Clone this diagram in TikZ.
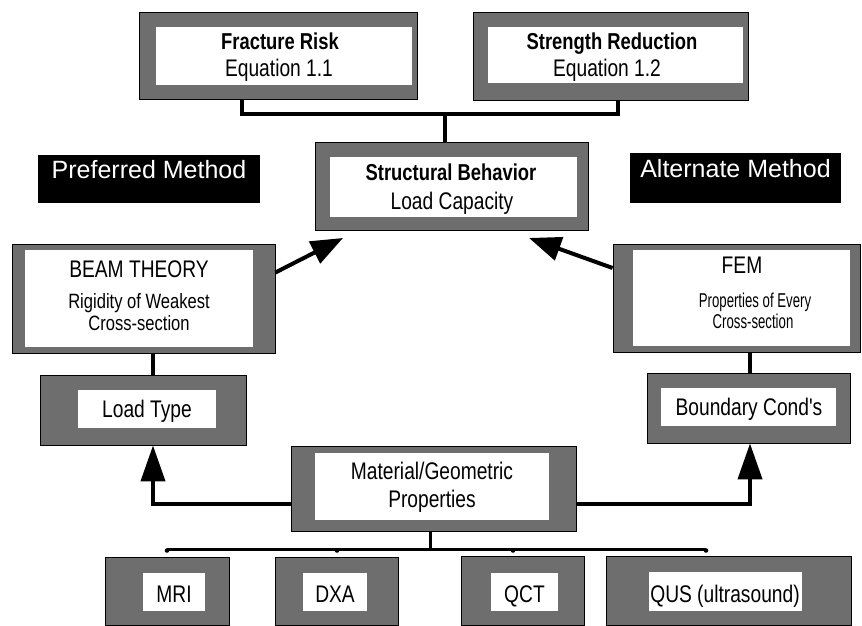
\documentclass[tikz,border=0pt]{standalone}
\usepackage{fontspec}
\setmainfont{Liberation Sans}
\newfontfamily\nar[FakeStretch=0.8]{Liberation Sans}
\newfontfamily\narr[FakeStretch=0.66]{Liberation Sans}
\usetikzlibrary{arrows.meta,fit}
\begin{document}
\begin{tikzpicture}[x=1pt,y=-1pt,
  frame/.style={draw=black,line width=0.8pt,fill=black!57,inner sep=0pt},
  inbox/.style={fill=white,inner sep=0pt},
  lab/.style={font=\nar\fontsize{24}{26}\selectfont,anchor=base,inner sep=0pt},
  sublab/.style={font=\nar\fontsize{20.7}{22}\selectfont,anchor=base,inner sep=0pt},
  smlab/.style={font=\narr\fontsize{20}{22}\selectfont,anchor=base,inner sep=0pt},
  blab/.style={font=\nar\bfseries\fontsize{23}{26}\selectfont,anchor=base,inner sep=0pt},
  tag/.style={fill=black,text=white,inner sep=0pt,font=\fontsize{25}{28}\selectfont},
  conn/.style={line width=3.5pt},
  bus/.style={line width=3pt},
  arrd/.style={line width=4pt,-{Triangle[length=32pt,width=24pt]}},
  arrv/.style={line width=4pt,-{Triangle[length=36pt,width=24pt]}},
]
\useasboundingbox (0,0) rectangle (862,626);

% Top boxes
\node[frame,fit={(139,12) (417,99)}] (fr) {};
\node[inbox,fit={(156,27) (412,85)}] (fr-in) {};
\node[blab] (fr-t1) at (280,50) {Fracture Risk};
\node[lab] (fr-t2) at (279,77) {Equation 1.1};

\node[frame,fit={(473,12) (748,100)}] (sr) {};
\node[inbox,fit={(488,27) (743,83)}] (sr-in) {};
\node[blab] (sr-t1) at (612,50) {Strength Reduction};
\node[lab] (sr-t2) at (607,77) {Equation 1.2};

% Structural behavior
\node[frame,fit={(315,142) (588,230)}] (sb) {};
\node[inbox,fit={(330,157) (577,217)}] (sb-in) {};
\node[blab] (sb-t1) at (451,180) {Structural Behavior};
\node[lab] (sb-t2) at (452,209) {Load Capacity};

% Method tags
\node[tag,fit={(38,155) (260,203)}] (pm) {Preferred Method};
\node[tag,fit={(630,153) (841,203)}] (am) {Alternate Method};

% Beam theory / FEM
\node[frame,fit={(12,244) (275,353)}] (bt) {};
\node[inbox,fit={(25,250) (253,347)}] (bt-in) {};
\node[lab] (bt-t1) at (139,277) {BEAM THEORY};
\node[sublab] (bt-t2) at (139,308) {Rigidity of Weakest};
\node[sublab] (bt-t3) at (139,330) {Cross-section};

\node[frame,fit={(613,244) (860,352)}] (fem) {};
\node[inbox,fit={(633,250) (850,346)}] (fem-in) {};
\node[lab] (fem-t1) at (742,273) {FEM};
\node[smlab] (fem-t2) at (755,307) {Properties of Every};
\node[smlab] (fem-t3) at (753,328) {Cross-section};

% Load type / Boundary
\node[frame,fit={(40,375) (246,445)}] (lt) {};
\node[inbox,fit={(78,390) (216,428)}] (lt-in) {};
\node[lab] (lt-t) at (147,417) {Load Type};

\node[frame,fit={(647,373) (850,443)}] (bc) {};
\node[inbox,fit={(661,388) (836,426)}] (bc-in) {};
\node[lab] (bc-t) at (749,415) {Boundary Cond's};

% Material
\node[frame,fit={(291,446) (576,531)}] (mg) {};
\node[inbox,fit={(315,453) (549,520)}] (mg-in) {};
\node[lab] (mg-t1) at (432,479) {Material/Geometric};
\node[lab] (mg-t2) at (432,507) {Properties};

% Bottom row
\node[frame,fit={(105,557) (229,625)}] (mri) {};
\node[inbox,fit={(143,573) (205,611)}] (mri-in) {};
\node[lab] (mri-t) at (174,602) {MRI};

\node[frame,fit={(275,557) (398,625)}] (dxa) {};
\node[inbox,fit={(303,573) (367,611)}] (dxa-in) {};
\node[lab] (dxa-t) at (335,602) {DXA};

\node[frame,fit={(461,556) (584,625)}] (qct) {};
\node[inbox,fit={(491,573) (558,611)}] (qct-in) {};
\node[lab] (qct-t) at (524.5,602) {QCT};

\node[frame,fit={(606,556) (851,625)}] (qus) {};
\node[inbox,fit={(649,572) (802,611)}] (qus-in) {};
\node[lab] (qus-t) at (725,602) {QUS (ultrasound)};

% Connectors top
\coordinate (topbus) at (445,114);
\draw[conn] ([xshift=-36pt]fr.south) |- (topbus) -| ([xshift=7.5pt]sr.south);
\draw[conn] ([xshift=-6.5pt]sb.north) -- (topbus);

% Diagonal arrows
\coordinate (sb-l) at (343,238);
\coordinate (sb-r) at (529,238);
\draw[arrd] ([yshift=26pt]bt.east) -- (sb-l);
\draw[arrd] ([yshift=30pt]fem.west) -- (sb-r);

% Vertical links
\draw[conn] ([xshift=10pt]lt.north) -- ([xshift=9.5pt]bt.south);
\draw[conn] ([xshift=1.5pt]bc.north) -- ([xshift=13.5pt]fem.south);

% Arrows from material
\draw[arrv] ([yshift=-15pt]mg.west) -| ([xshift=10pt]lt.south);
\draw[arrv] ([yshift=-15pt]mg.east) -| ([xshift=1.5pt]bc.south);

% Bottom bus
\coordinate (busl) at (167,549);
\coordinate (busr) at (706,549);
\coordinate (busm) at (430,549);
\draw[bus] ([xshift=-3.5pt]mg.south) -- (busm);
\draw[bus] (busl) -- (busr);
\foreach \bx/\nm in {167/b1,337/b2,513/b3,706/b4}
  \fill (\bx,550.5) circle (2.3pt) coordinate (\nm);
\end{tikzpicture}
\end{document}
